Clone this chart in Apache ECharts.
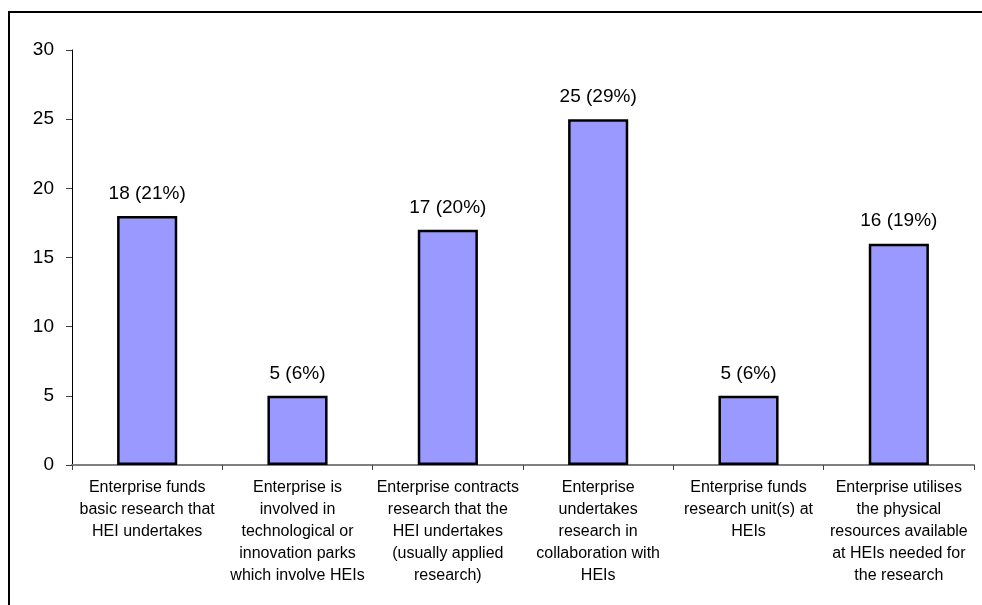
<!DOCTYPE html>
<html>
<head>
<meta charset="utf-8">
<script src="https://cdn.jsdelivr.net/npm/echarts@6/dist/echarts.min.js"></script>
<style>
  html, body { margin: 0; padding: 0; background: #fff; }
  #chart { width: 982px; height: 605px; }
</style>
</head>
<body>
<div id="chart"></div>
<script>
// Ways enterprises engage with HEIs in research
const categories = [
  'Enterprise funds\nbasic research that\nHEI undertakes',
  'Enterprise is\ninvolved in\ntechnological or\ninnovation parks\nwhich involve HEIs',
  'Enterprise contracts\nresearch that the\nHEI undertakes\n(usually applied\nresearch)',
  'Enterprise\nundertakes\nresearch in\ncollaboration with\nHEIs',
  'Enterprise funds\nresearch unit(s) at\nHEIs',
  'Enterprise utilises\nthe physical\nresources available\nat HEIs needed for\nthe research'
];
const counts = [18, 5, 17, 25, 5, 16];
const percents = [21, 6, 20, 29, 6, 19];
const yTicks = [0, 5, 10, 15, 20, 25, 30];

const chart = echarts.init(document.getElementById('chart'), null, { renderer: 'canvas' });
const font = 'Liberation Sans, Arial, sans-serif';

chart.setOption({
  animation: false,
  backgroundColor: '#ffffff',
  textStyle: { fontFamily: font },
  graphic: [
    { type: 'line', shape: { x1: 9, y1: 11, x2: 9, y2: 605 }, style: { stroke: '#000', lineWidth: 2 } },
    { type: 'line', shape: { x1: 8, y1: 12, x2: 982, y2: 12 }, style: { stroke: '#000', lineWidth: 2 } }
  ],
  grid: { left: 72, right: 8, top: 50, bottom: 140, containLabel: false },
  xAxis: {
    type: 'category',
    data: categories,
    boundaryGap: true,
    axisLine: { lineStyle: { color: '#808080', width: 2 } },
    axisTick: { show: true, length: 5, lineStyle: { color: '#404040', width: 1 } },
    axisLabel: {
      interval: 0,
      margin: 12,
      color: '#000',
      fontFamily: font,
      fontSize: 16,
      lineHeight: 22,
      align: 'center'
    },
    splitLine: { show: false }
  },
  yAxis: {
    type: 'value',
    min: yTicks[0],
    max: yTicks[yTicks.length - 1],
    interval: yTicks[1] - yTicks[0],
    axisLine: { show: true, lineStyle: { color: '#000', width: 1 } },
    axisTick: { show: true, length: 6, lineStyle: { color: '#404040', width: 1 } },
    axisLabel: { margin: 18, color: '#000', fontFamily: font, fontSize: 19 },
    splitLine: { show: false }
  },
  series: [{
    type: 'bar',
    data: counts,
    barWidth: '40%',
    itemStyle: { color: '#9999ff', borderColor: '#000', borderWidth: 2.5 },
    label: {
      show: true,
      position: 'top',
      distance: 13,
      color: '#000',
      fontFamily: font,
      fontSize: 19,
      formatter: p => counts[p.dataIndex] + ' (' + percents[p.dataIndex] + '%)'
    }
  }]
});
</script>
</body>
</html>
